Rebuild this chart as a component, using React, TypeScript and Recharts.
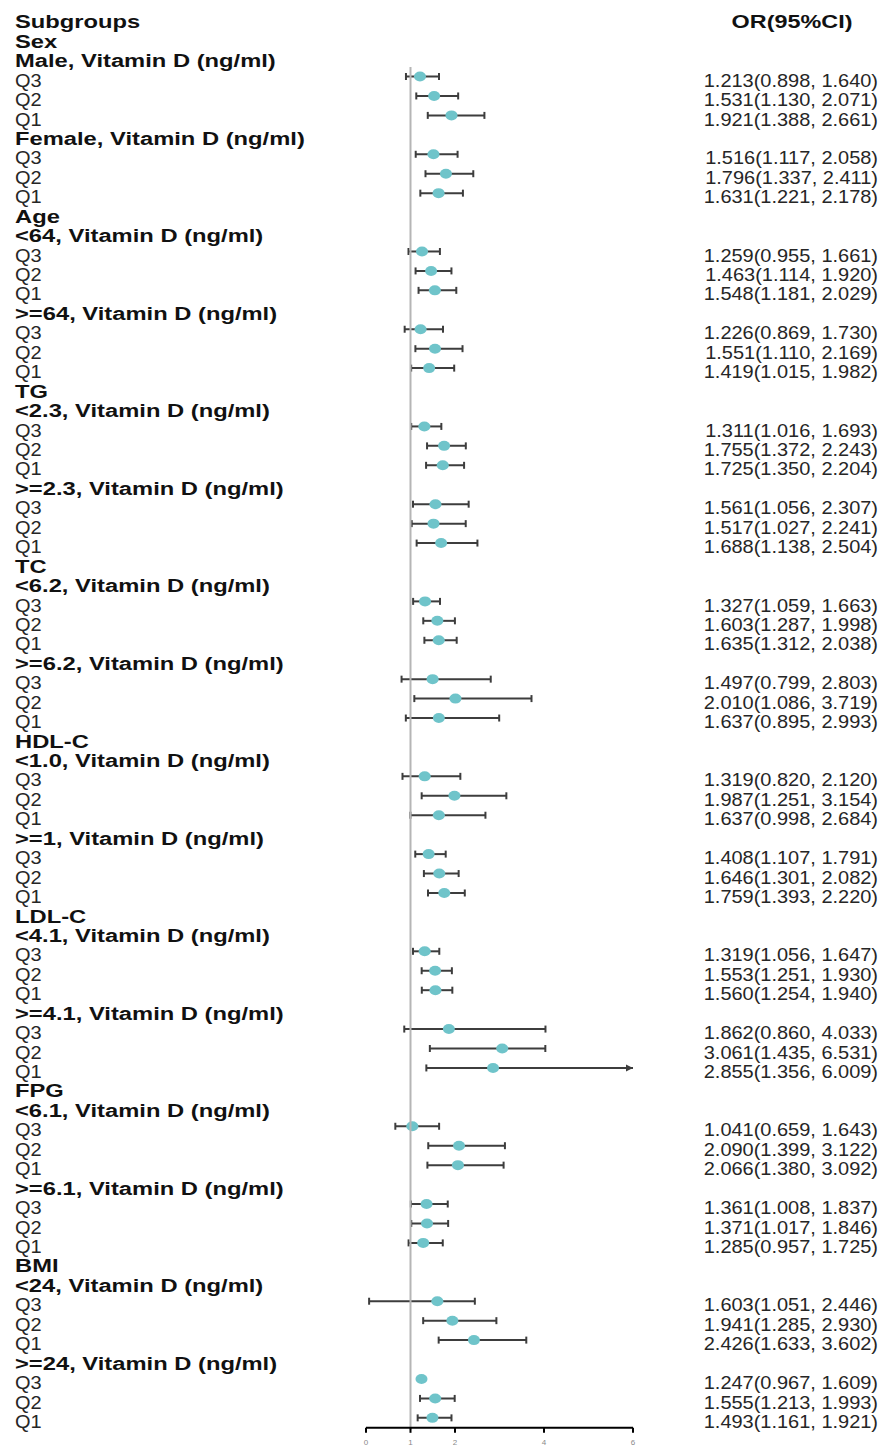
import { ComposedChart, Bar, XAxis, YAxis, ReferenceLine } from "recharts";

// ---- data ----
const groups = ["Sex", "Age", "TG", "TC", "HDL-C", "LDL-C", "FPG", "BMI"];
const subgroups = [
  "Male", "Female", "<64", ">=64", "<2.3", ">=2.3", "<6.2", ">=6.2",
  "<1.0", ">=1", "<4.1", ">=4.1", "<6.1", ">=6.1", "<24", ">=24",
];
const exposure = "Vitamin D (ng/ml)";
const quartiles = ["Q3", "Q2", "Q1"];

const orValue = [
  1.213, 1.531, 1.921, 1.516, 1.796, 1.631,
  1.259, 1.463, 1.548, 1.226, 1.551, 1.419,
  1.311, 1.755, 1.725, 1.561, 1.517, 1.688,
  1.327, 1.603, 1.635, 1.497, 2.01, 1.637,
  1.319, 1.987, 1.637, 1.408, 1.646, 1.759,
  1.319, 1.553, 1.56, 1.862, 3.061, 2.855,
  1.041, 2.09, 2.066, 1.361, 1.371, 1.285,
  1.603, 1.941, 2.426, 1.247, 1.555, 1.493,
];

// interval ends as they are drawn in the plot
const lower = [
  0.898, 1.13, 1.388, 1.117, 1.337, 1.221,
  0.955, 1.114, 1.181, 0.869, 1.11, 1.015,
  1.016, 1.372, 1.35, 1.056, 1.027, 1.138,
  1.059, 1.287, 1.312, 0.799, 1.086, 0.895,
  0.82, 1.251, 0.998, 1.107, 1.301, 1.393,
  1.056, 1.251, 1.254, 0.86, 1.435, 1.356,
  0.659, 1.399, 1.38, 1.008, 1.017, 0.957,
  0.07, 1.285, 1.633, 1.23, 1.213, 1.161,
];
const upper = [
  1.64, 2.071, 2.661, 2.058, 2.411, 2.178,
  1.661, 1.92, 2.029, 1.73, 2.169, 1.982,
  1.693, 2.243, 2.204, 2.307, 2.241, 2.504,
  1.663, 1.998, 2.038, 2.803, 3.719, 2.993,
  2.12, 3.154, 2.684, 1.791, 2.082, 2.22,
  1.647, 1.93, 1.94, 4.033, 4.03, 6.009,
  1.643, 3.122, 3.092, 1.837, 1.846, 1.725,
  2.446, 2.93, 3.602, 1.26, 1.993, 1.921,
];

const orLabels = [
  "1.213(0.898, 1.640)", "1.531(1.130, 2.071)", "1.921(1.388, 2.661)",
  "1.516(1.117, 2.058)", "1.796(1.337, 2.411)", "1.631(1.221, 2.178)",
  "1.259(0.955, 1.661)", "1.463(1.114, 1.920)", "1.548(1.181, 2.029)",
  "1.226(0.869, 1.730)", "1.551(1.110, 2.169)", "1.419(1.015, 1.982)",
  "1.311(1.016, 1.693)", "1.755(1.372, 2.243)", "1.725(1.350, 2.204)",
  "1.561(1.056, 2.307)", "1.517(1.027, 2.241)", "1.688(1.138, 2.504)",
  "1.327(1.059, 1.663)", "1.603(1.287, 1.998)", "1.635(1.312, 2.038)",
  "1.497(0.799, 2.803)", "2.010(1.086, 3.719)", "1.637(0.895, 2.993)",
  "1.319(0.820, 2.120)", "1.987(1.251, 3.154)", "1.637(0.998, 2.684)",
  "1.408(1.107, 1.791)", "1.646(1.301, 2.082)", "1.759(1.393, 2.220)",
  "1.319(1.056, 1.647)", "1.553(1.251, 1.930)", "1.560(1.254, 1.940)",
  "1.862(0.860, 4.033)", "3.061(1.435, 6.531)", "2.855(1.356, 6.009)",
  "1.041(0.659, 1.643)", "2.090(1.399, 3.122)", "2.066(1.380, 3.092)",
  "1.361(1.008, 1.837)", "1.371(1.017, 1.846)", "1.285(0.957, 1.725)",
  "1.603(1.051, 2.446)", "1.941(1.285, 2.930)", "2.426(1.633, 3.602)",
  "1.247(0.967, 1.609)", "1.555(1.213, 1.993)", "1.493(1.161, 1.921)",
];

const xTicks = [0, 1, 2, 4, 6];
const X_MAX = 6;

// ---- styling ----
const FONT = "'Liberation Sans', Arial, Helvetica, sans-serif";
const DOT = "#6fc4ca";
const WHISKER = "#3d3d3d";
const LEFT_X = 15;
const RIGHT_X = 878;
const HEAD_X = 792;

type Row = {
  key: string;
  label: string;
  bold: boolean;
  right?: string;
  or?: number;
  ci?: [number, number];
};

const rows: Row[] = [{ key: "r0", label: "Subgroups", bold: true, right: "OR(95%CI)" }];
groups.forEach((g, gi) => {
  rows.push({ key: `r${rows.length}`, label: g, bold: true });
  [0, 1].forEach((si) => {
    const s = gi * 2 + si;
    rows.push({ key: `r${rows.length}`, label: `${subgroups[s]}, ${exposure}`, bold: true });
    quartiles.forEach((q, qi) => {
      const d = s * 3 + qi;
      rows.push({
        key: `r${rows.length}`,
        label: q,
        bold: false,
        right: orLabels[d],
        or: orValue[d],
        ci: [lower[d], upper[d]],
      });
    });
  });
});
const byKey = new Map(rows.map((r) => [r.key, r]));

function RowTick(props: any) {
  const { y, payload } = props;
  const row = byKey.get(payload.value);
  if (!row) return <g />;
  const ty = y + 3.5;
  const sx = row.bold ? 1.32 : 1.11;
  const isTitle = row.key === "r0";
  return (
    <g fontFamily={FONT} fontSize={18}>
      <text
        transform={`translate(${LEFT_X},${ty}) scale(${sx},1)`}
        dy="0.355em"
        textAnchor="start"
        fontWeight={row.bold ? 700 : 400}
        fill={row.bold ? "#111" : "#262626"}
      >
        {row.label}
      </text>
      {row.right && (
        <text
          transform={`translate(${isTitle ? HEAD_X : RIGHT_X},${ty}) scale(${isTitle ? 1.3 : 1.11},1)`}
          dy="0.355em"
          textAnchor={isTitle ? "middle" : "end"}
          fontWeight={isTitle ? 700 : 400}
          fill={isTitle ? "#111" : "#262626"}
        >
          {row.right}
        </text>
      )}
    </g>
  );
}

function WhiskerDot(props: any) {
  const { x, y, width, height, payload } = props;
  if (!payload || !payload.ci) return <g />;
  const [lo, hi] = payload.ci;
  const cy = y + height / 2;
  const perUnit = width / (hi - lo);
  const cx = x + (payload.or - lo) * perUnit;
  const clipped = hi > X_MAX;
  const endX = clipped ? x + (X_MAX - lo) * perUnit : x + width;
  return (
    <g>
      <line x1={x} y1={cy} x2={endX} y2={cy} stroke={WHISKER} strokeWidth={2} />
      <line x1={x} y1={cy - 3.5} x2={x} y2={cy + 3.5} stroke={WHISKER} strokeWidth={2} />
      {clipped ? (
        <path d={`M${endX},${cy} l-7,-3.5 l0,7 z`} fill={WHISKER} />
      ) : (
        <line x1={endX} y1={cy - 3.5} x2={endX} y2={cy + 3.5} stroke={WHISKER} strokeWidth={2} />
      )}
      <ellipse cx={cx} cy={cy} rx={6} ry={5} fill={DOT} />
    </g>
  );
}

function RefLine(props: any) {
  const top = Math.min(props.y1, props.y2);
  const bottom = Math.max(props.y1, props.y2);
  const band = (bottom - top) / rows.length;
  return (
    <line
      x1={props.x1}
      x2={props.x2}
      y1={top + 3 * band}
      y2={bottom + 2}
      stroke="#b5b5b5"
      strokeWidth={2}
    />
  );
}

export default function App() {
  return (
    <div style={{ position: "absolute", left: 0, top: 0, background: "#fff" }}>
      <ComposedChart
        width={887}
        height={1448}
        data={rows}
        layout="vertical"
        margin={{ top: 8.7, right: 254, bottom: 0, left: 0 }}
        barCategoryGap={0}
      >
        <XAxis
          type="number"
          domain={[0, X_MAX]}
          ticks={xTicks}
          allowDataOverflow
          height={20.2}
          tickSize={5}
          tickMargin={7}
          tick={{ fontSize: 8, fill: "#8a8a8a", fontFamily: FONT }}
          axisLine={{ stroke: "#000", strokeWidth: 2 }}
          tickLine={{ stroke: "#000", strokeWidth: 2 }}
        />
        <YAxis
          type="category"
          dataKey="key"
          width={366}
          interval={0}
          axisLine={false}
          tickLine={false}
          tick={(p: any) => <RowTick {...p} />}
        />
        <ReferenceLine x={1} shape={(p: any) => <RefLine {...p} />} />
        <Bar dataKey="ci" isAnimationActive={false} shape={(p: any) => <WhiskerDot {...p} />} />
      </ComposedChart>
    </div>
  );
}
